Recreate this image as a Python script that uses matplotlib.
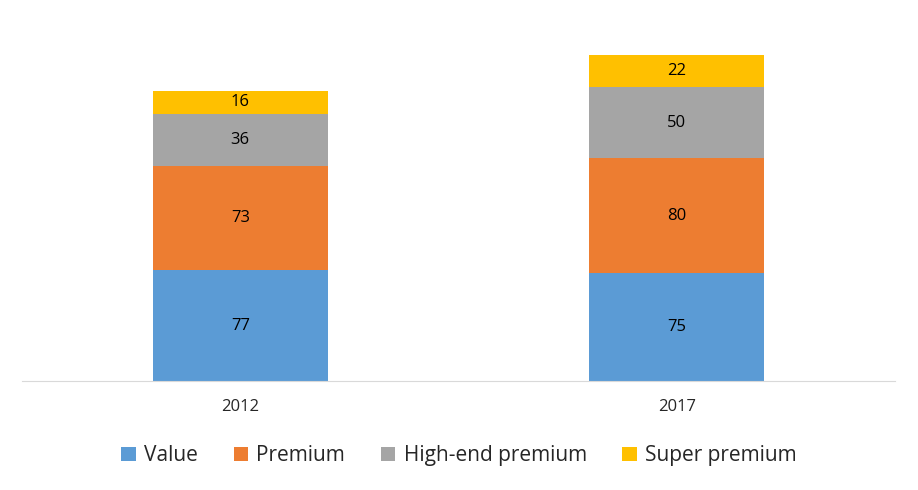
import numpy as np
import matplotlib.pyplot as plt

years = ['2012', '2017']
series = ['Value', 'Premium', 'High-end premium', 'Super premium']
value = [77, 75]
premium = [73, 80]
high_end = [36, 50]
super_premium = [16, 22]
colors = ['#5B9BD5', '#ED7D31', '#A5A5A5', '#FFC000']

plt.rcParams['font.family'] = ['Open Sans', 'DejaVu Sans']

fig = plt.figure(figsize=(9.18, 4.9), dpi=100)
ax = fig.add_axes([0.024, 0.2224, 0.951, 0.7326])

x = np.arange(len(years))
bottom = np.zeros(len(years))
for name, vals, c in zip(series, [value, premium, high_end, super_premium], colors):
    bars = ax.bar(x, vals, width=0.4, bottom=bottom, color=c, label=name)
    ax.bar_label(bars, labels=[str(v) for v in vals], label_type='center',
                 fontsize=12, color='#000000')
    bottom += np.array(vals)

ax.set_xlim(-0.5, 1.5)
ax.set_ylim(0, 250)
ax.set_xticks(x)
ax.set_xticklabels(years, fontsize=12, color='#262626')
ax.tick_params(axis='x', length=0, pad=13)
ax.set_yticks([])
for s in ['top', 'right', 'left']:
    ax.spines[s].set_visible(False)
ax.spines['bottom'].set_color('#D9D9D9')

fig.legend(loc='center', bbox_to_anchor=(0.5, 0.07), ncol=4, frameon=False,
           fontsize=15, handlelength=0.7, handleheight=0.7, handletextpad=0.4,
           columnspacing=1.7, labelcolor='#262626')

fig.savefig('out.png', dpi=100)
